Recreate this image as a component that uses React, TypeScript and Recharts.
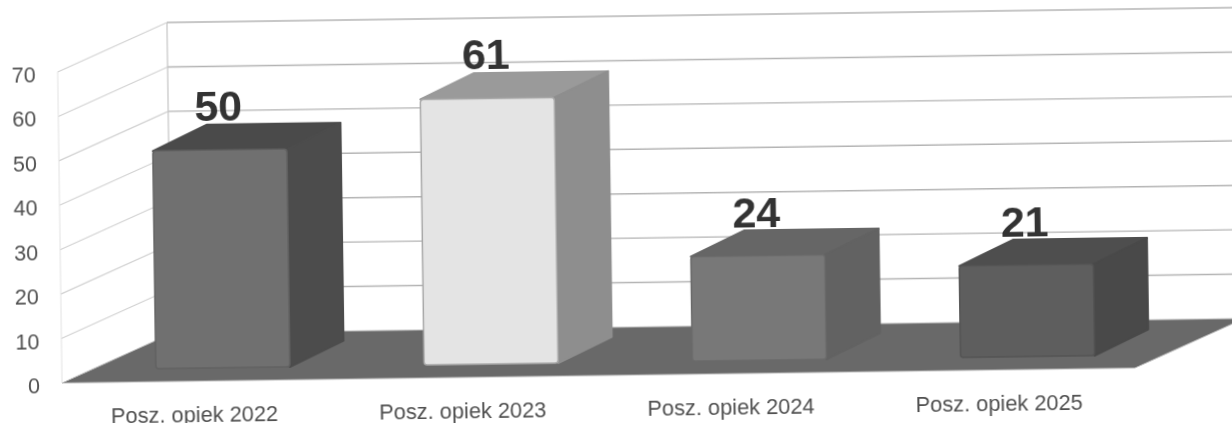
import { Bar, BarChart, LabelList, XAxis, YAxis } from "recharts";

const categories = ["Posz. opiek 2022", "Posz. opiek 2023", "Posz. opiek 2024", "Posz. opiek 2025"];
const values = [50, 61, 24, 21];
const yTicks = [0, 10, 20, 30, 40, 50, 60, 70];

const frontColors = ["#707070", "#e4e4e4", "#787878", "#5e5e5e"];
const edgeColors = ["#626262", "#a8a8a8", "#6a6a6a", "#545454"];
const sideColors = ["#4c4c4c", "#8e8e8e", "#626262", "#494949"];
const topColors = ["#4a4a4a", "#9a9a9a", "#666666", "#4e4e4e"];

const data = categories.map((name, i) => ({ name, value: values[i] }));

// depth of the floor / walls, and where the boxes sit on it
const DEPTH_X = 110;
const DEPTH_Y = 48;
const BOX_DX = 54;
const BOX_DY = 25.5;
const SHIFT_X = 27;
const LIFT = 13;
const PERSPECTIVE = 0.98; // boxes sit further back than the axis, so they read a bit shorter
const PLOT_W = 1073;
const PLOT_H = 311;
const AXIS_X = 62;
const STEP = PLOT_H / 7;

const chartProps = {
  width: 1340,
  height: 460,
  data,
  barCategoryGap: "25%",
  margin: { top: 72, right: 205, bottom: 47, left: 0 },
};

const WallTick = ({ y, payload }: any) => {
  const v = payload.value;
  const bx = AXIS_X + DEPTH_X;
  const by = y - DEPTH_Y;
  return (
    <g>
      {v === 0 ? (
        <polygon
          points={`${AXIS_X},${y} ${AXIS_X + PLOT_W},${y} ${bx + PLOT_W},${by} ${bx},${by}`}
          fill="#696969"
          stroke="#bdbdbd"
          strokeWidth={1}
        />
      ) : (
        <>
          <line x1={AXIS_X} y1={y} x2={bx} y2={by} stroke="#d2d2d2" strokeWidth={1.2} />
          <line x1={bx} y1={by} x2={bx + PLOT_W} y2={by} stroke="#b4b4b4" strokeWidth={1.4} />
          <line x1={AXIS_X} y1={y} x2={AXIS_X} y2={y + STEP} stroke="#e2e2e2" strokeWidth={1} />
          <line x1={bx} y1={by} x2={bx} y2={by + STEP} stroke="#c4c4c4" strokeWidth={1.2} />
        </>
      )}
      <text x={40} y={y + 10} textAnchor="end" fontSize={21.5} fontFamily="Liberation Sans" fill="#505050">
        {v}
      </text>
    </g>
  );
};

const CategoryTick = ({ x, y, payload }: any) => (
  <text x={x - 2} y={y + 33} textAnchor="middle" fontSize={21.8} fontFamily="Liberation Sans" fill="#505050">
    {payload.value}
  </text>
);

const Box3D = ({ x, y, width, height, index }: any) => {
  const left = x + SHIFT_X;
  const right = left + width;
  const bottom = y + height - LIFT;
  const top = bottom - height * PERSPECTIVE;
  return (
    <g>
      <polygon
        points={`${left},${top} ${left + BOX_DX},${top - BOX_DY} ${right + BOX_DX},${top - BOX_DY} ${right},${top}`}
        fill={topColors[index]}
        stroke={topColors[index]}
        strokeWidth={2}
        strokeLinejoin="round"
      />
      <polygon
        points={`${right},${top} ${right + BOX_DX},${top - BOX_DY} ${right + BOX_DX},${bottom - BOX_DY} ${right},${bottom}`}
        fill={sideColors[index]}
        stroke={sideColors[index]}
        strokeWidth={2}
        strokeLinejoin="round"
      />
      <rect
        x={left}
        y={top}
        width={width}
        height={height * PERSPECTIVE}
        rx={3}
        fill={frontColors[index]}
        stroke={edgeColors[index]}
        strokeWidth={1.5}
      />
    </g>
  );
};

const ValueLabel = ({ x, y, width, height, value }: any) => (
  <text
    x={x + width / 2 + 26}
    y={y + height - LIFT - height * PERSPECTIVE - 29}
    textAnchor="middle"
    fontSize={43}
    fontWeight="bold"
    fontFamily="Liberation Sans"
    fill="#333333"
  >
    {value}
  </text>
);

export default function App() {
  return (
    <div style={{ position: "absolute", left: 0, top: 0, width: 1232, height: 423, overflow: "hidden", background: "#fff" }}>
      <div style={{ position: "relative", transform: "rotate(-0.8deg)", transformOrigin: "62px 383px", filter: "blur(0.5px)" }}>
        {/* walls and floor go in their own chart, axes always paint over bars otherwise */}
        <div style={{ position: "absolute", left: 0, top: 0 }}>
          <BarChart {...chartProps}>
            <YAxis
              width={62}
              domain={[0, 70]}
              ticks={yTicks}
              interval={0}
              axisLine={false}
              tickLine={false}
              tick={<WallTick />}
            />
            <XAxis dataKey="name" height={30} axisLine={false} tickLine={false} interval={0} tick={<CategoryTick />} />
            <Bar dataKey="value" fill="none" isAnimationActive={false} />
          </BarChart>
        </div>
        <div style={{ position: "absolute", left: 0, top: 0 }}>
          <BarChart {...chartProps}>
            <YAxis width={62} domain={[0, 70]} ticks={yTicks} axisLine={false} tickLine={false} tick={false} />
            <XAxis dataKey="name" height={30} axisLine={false} tickLine={false} tick={false} />
            <Bar dataKey="value" isAnimationActive={false} shape={<Box3D />}>
              <LabelList dataKey="value" content={<ValueLabel />} />
            </Bar>
          </BarChart>
        </div>
      </div>
    </div>
  );
}
